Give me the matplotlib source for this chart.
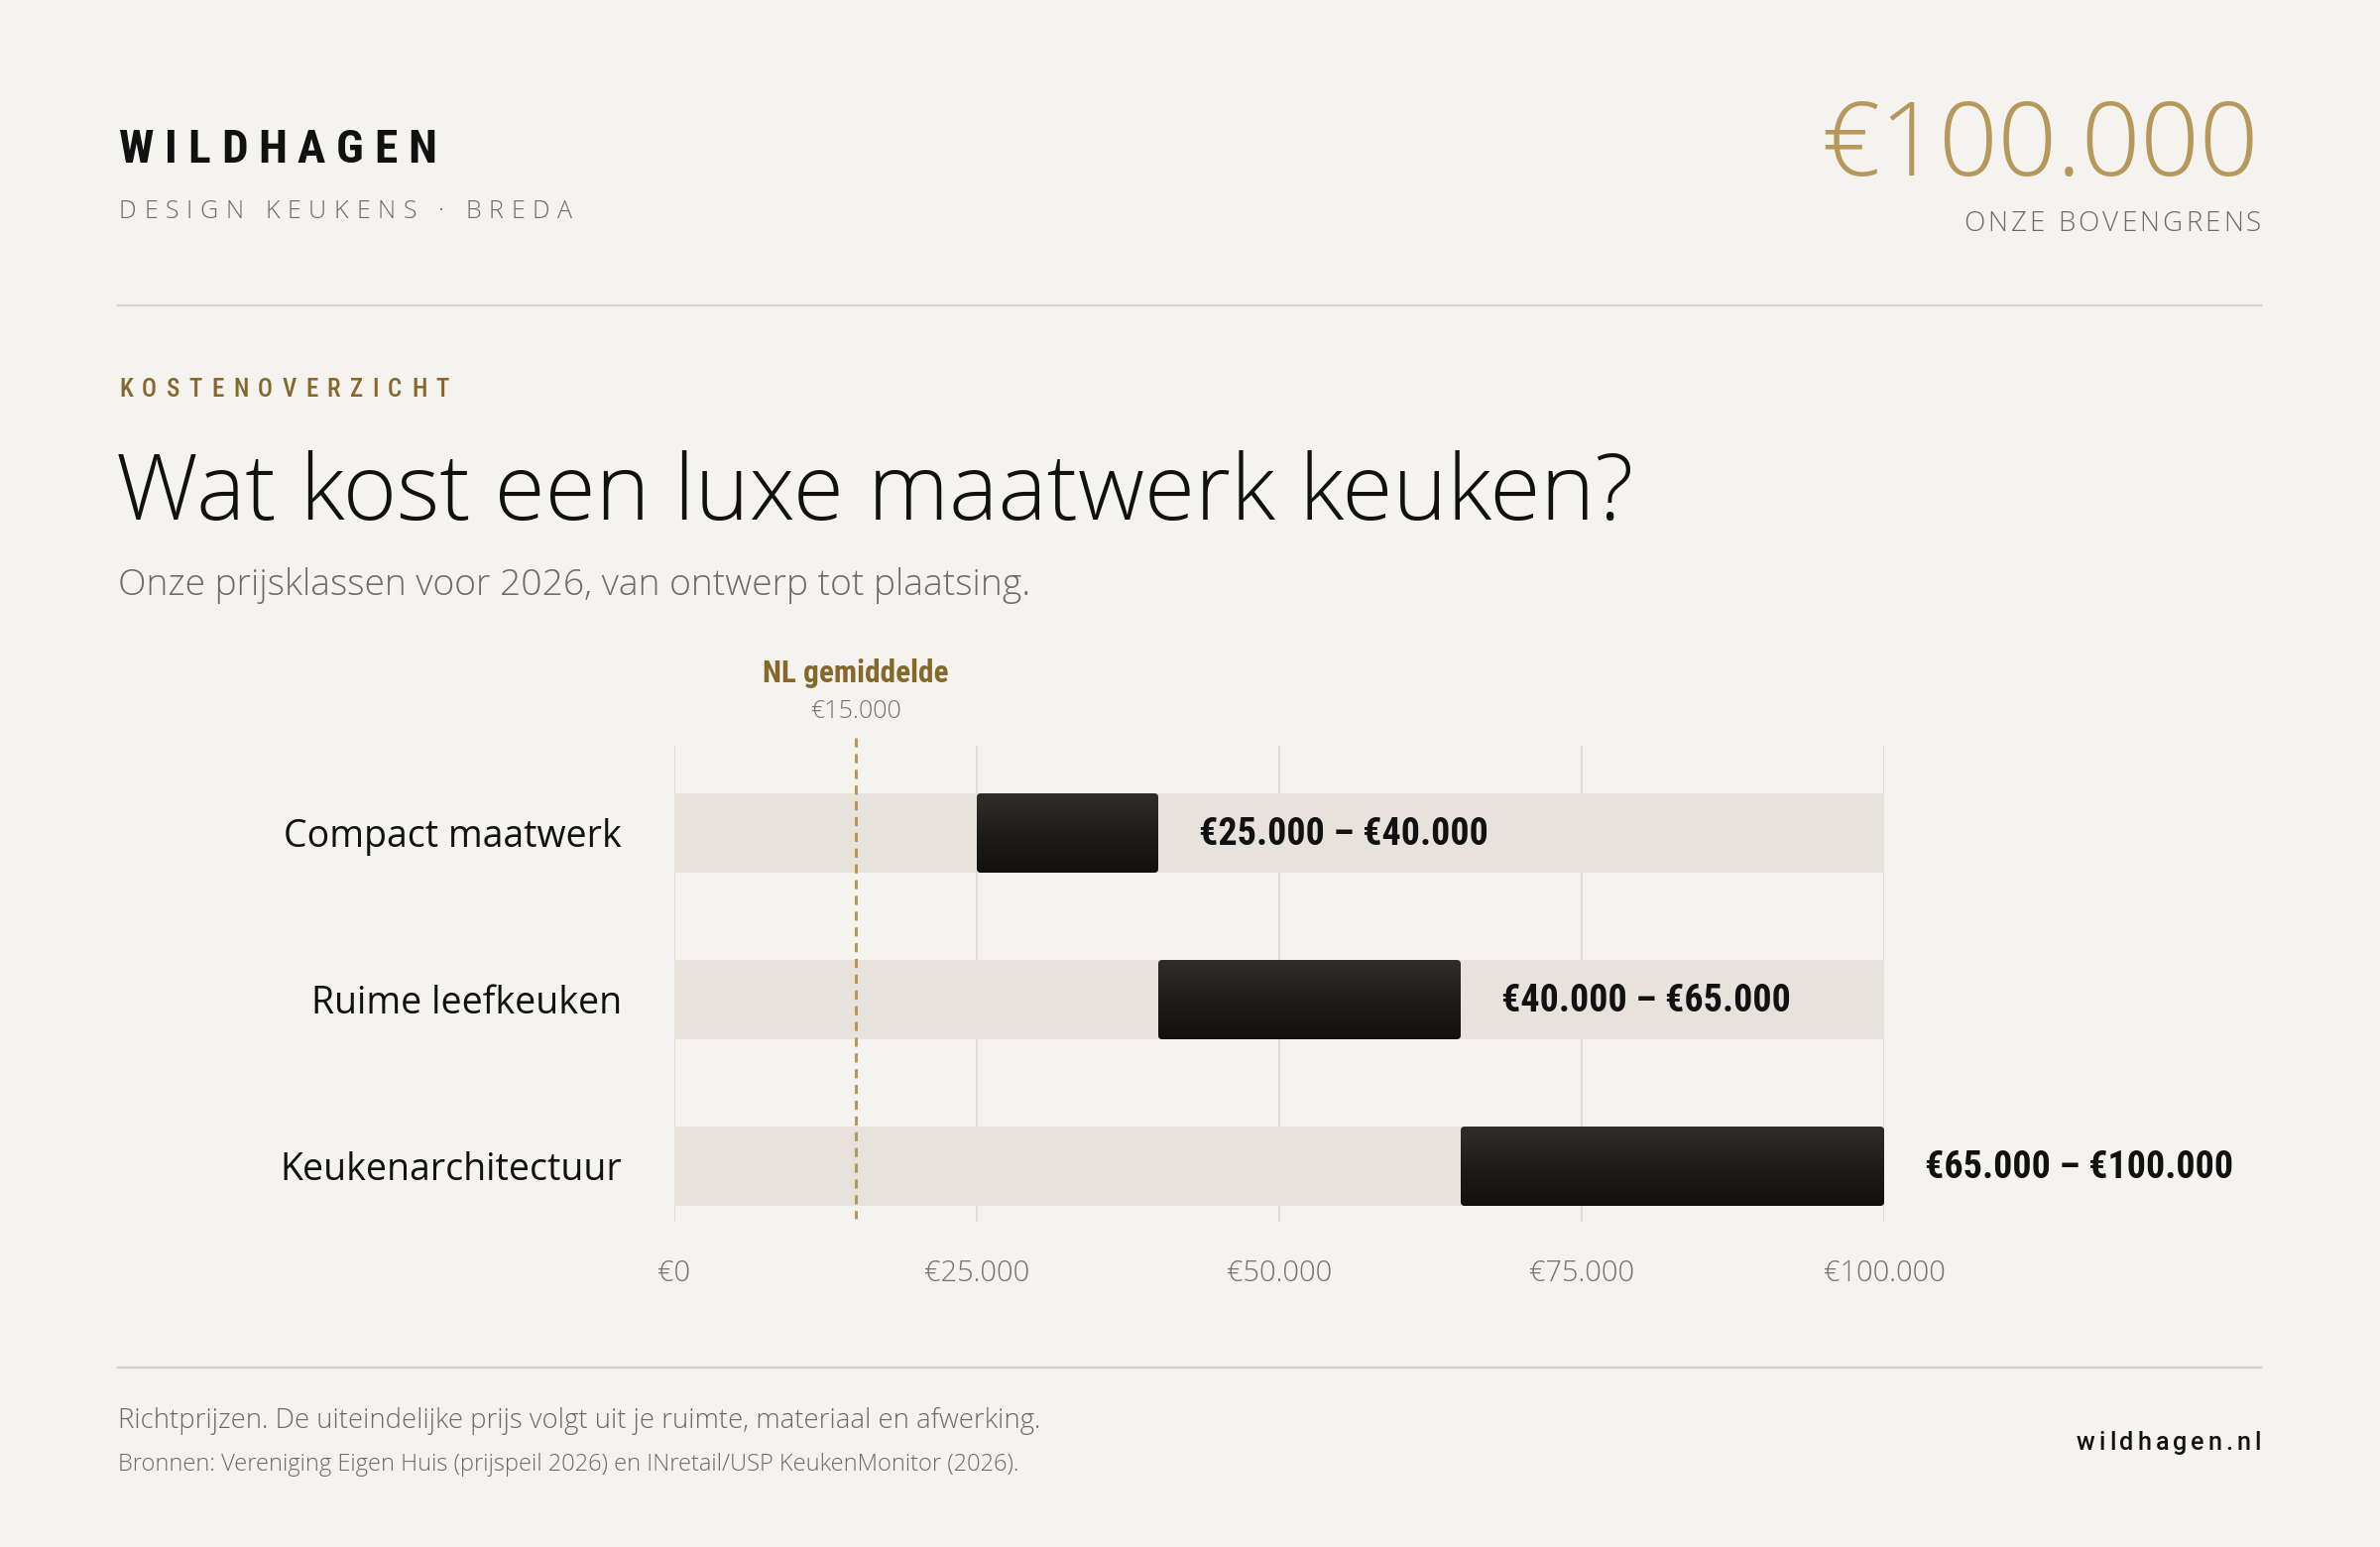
import matplotlib
matplotlib.use("Agg")
import matplotlib.pyplot as plt
import numpy as np
from matplotlib import font_manager as fm
from matplotlib.colors import LinearSegmentedColormap
from matplotlib.lines import Line2D
from matplotlib.patches import FancyBboxPatch, Rectangle

# data
categories = ["Compact maatwerk", "Ruime leefkeuken", "Keukenarchitectuur"]
low = [25000, 40000, 65000]
high = [40000, 65000, 100000]
range_labels = ["€25.000 – €40.000", "€40.000 – €65.000", "€65.000 – €100.000"]
tick_values = [0, 25000, 50000, 75000, 100000]
tick_labels = ["€0", "€25.000", "€50.000", "€75.000", "€100.000"]
nl_average = 15000
scale_max = 100000

# colours
BG = "#f5f3ef"
RULE = "#d6d3cc"
GRID = "#dcd8d2"
TRACK = "#e7e2dc"
GOLD = "#b5985a"
GOLD_DARK = "#86682a"
INK = "#111111"
GREY = "#6e6a65"
TICK = "#77726d"

W, H = 2400, 1560
fig = plt.figure(figsize=(12, 7.8), dpi=200)
fig.patch.set_facecolor(BG)
renderer = fig.canvas.get_renderer()


def wnum(w):
    if isinstance(w, str):
        return fm.weight_dict.get(w, 400)
    return int(w)


def pick_font(families, weight):
    best_all = None
    for fam in families:
        best = None
        for f in fm.fontManager.ttflist:
            if f.name != fam or f.style != "normal":
                continue
            # skip condensed cuts that share the family name
            if "Condensed" not in fam and str(f.stretch) not in ("normal", "400", "500"):
                continue
            if "Condensed" not in fam and "ondensed" in f.fname:
                continue
            d = abs(wnum(f.weight) - weight)
            if best is None or d < best[0]:
                best = (d, f.fname)
        if best is None:
            continue
        if best[0] <= 50:
            return fm.FontProperties(fname=best[1])
        if best_all is None or best[0] < best_all[0]:
            best_all = best
    if best_all:
        return fm.FontProperties(fname=best_all[1])
    return fm.FontProperties(family="DejaVu Sans")


LIGHT = pick_font(["Open Sans", "Noto Sans", "Lato", "Roboto"], 300)
REGULAR = pick_font(["Open Sans", "Noto Sans", "Lato", "Roboto"], 400)
DIN_BOLD = pick_font(["Roboto Condensed", "Roboto", "Noto Sans"], 700)
DIN_MED = pick_font(["Roboto Condensed", "Roboto", "Noto Sans"], 500)
WEB = pick_font(["Roboto", "Noto Sans"], 500)


def text_w(s, p):
    return renderer.get_text_width_height_descent(s, p, ismath=False)[0]


def sized(p, size):
    q = p.copy()
    q.set_size(size)
    return q


def fit_width(p, s, width):
    q = sized(p, 20)
    return sized(p, 20 * width / text_w(s, q))


def fit_cap(p, cap, ref="H"):
    q = sized(p, 20)
    _, h, d = renderer.get_text_width_height_descent(ref, q, ismath=False)
    return sized(p, 20 * cap / (h - d))


def put(x, y, s, p, color, ha="left"):
    fig.text(x / W, 1 - y / H, s, fontproperties=p, color=color,
             ha=ha, va="baseline")


def spaced(x, y, s, p, width, color, ha="left"):
    adv = [text_w("|" + c + "|", p) - text_w("||", p) for c in s]
    gap = (width - sum(adv)) / (len(s) - 1)
    x0 = x if ha == "left" else x - width
    for c, a in zip(s, adv):
        put(x0, y, c, p, color)
        x0 += a + gap


def rule(y):
    fig.add_artist(Line2D([119 / W, 2280 / W], [1 - y / H, 1 - y / H],
                          color=RULE, lw=0.8))


# header
spaced(120, 164, "WILDHAGEN", fit_cap(DIN_BOLD, 34), 320, INK)
spaced(120, 220, "DESIGN KEUKENS · BREDA", fit_cap(LIGHT, 18), 457, GREY)
put(2278, 177, "€100.000", fit_cap(LIGHT, 76, ref="0"), GOLD, ha="right")
spaced(2280, 233, "ONZE BOVENGRENS", fit_cap(LIGHT, 20), 300, GREY, ha="right")
rule(308)

spaced(120, 400, "KOSTENOVERZICHT", fit_cap(DIN_MED, 18), 333, GOLD_DARK)
put(117, 524, "Wat kost een luxe maatwerk keuken?",
    fit_width(LIGHT, "Wat kost een luxe maatwerk keuken?", 1526), INK)
put(119, 600, "Onze prijsklassen voor 2026, van ontwerp tot plaatsing.",
    fit_width(LIGHT, "Onze prijsklassen voor 2026, van ontwerp tot plaatsing.", 919), GREY)

# chart area
ax = fig.add_axes([680 / W, 1 - 1232 / H, 1220 / W, (1232 - 744) / H])
ax.set_facecolor("none")
px_x = scale_max / 1220
px_y = 1 / 168
bh = 80 * px_y
y_top = -(840 - 744) * px_y
y_bot = len(categories) - 1 + (1232 - 1176) * px_y

ax.vlines(tick_values, -(840 - 752) * px_y, y_bot, color=GRID, lw=0.6, zorder=1)

cmap = LinearSegmentedColormap.from_list("bar", ["#302d29", "#1f1d1b", "#121110"])
grad = np.linspace(0, 1, 64).reshape(-1, 1)
for i, (lo, hi) in enumerate(zip(low, high)):
    ax.add_patch(Rectangle((0, i - bh / 2), scale_max, bh, facecolor=TRACK,
                           edgecolor="none", zorder=2))
    box = FancyBboxPatch((lo, i - bh / 2), hi - lo, bh,
                         boxstyle=f"round,pad=0,rounding_size={4 * px_x}",
                         mutation_aspect=px_y / px_x, facecolor="none",
                         edgecolor="none", zorder=3)
    ax.add_patch(box)
    im = ax.imshow(grad, cmap=cmap, aspect="auto", origin="upper",
                   extent=(lo, hi, i + bh / 2, i - bh / 2), zorder=3,
                   interpolation="bilinear")
    im.set_clip_path(box)

ax.plot([nl_average, nl_average], [y_top, len(categories) - 1 + 53 * px_y],
        color=GOLD, lw=1.1, dashes=(3, 2.2), zorder=4)

cat_p = fit_width(REGULAR, categories[0], 340)
val_p = fit_width(DIN_BOLD, range_labels[0], 291)
for i, (cat, hi, lab) in enumerate(zip(categories, high, range_labels)):
    ax.text(-53 * px_x, i + 14 * px_y, cat, fontproperties=cat_p, color=INK,
            ha="right", va="baseline", clip_on=False)
    ax.text(hi + 41 * px_x, i + 12 * px_y, lab, fontproperties=val_p, color=INK,
            ha="left", va="baseline", clip_on=False)

tick_p = fit_width(LIGHT, "€25.000", 106)
for v, lab in zip(tick_values, tick_labels):
    ax.text(v, len(categories) - 1 + (1292 - 1176) * px_y, lab,
            fontproperties=tick_p, color=TICK, ha="center", va="baseline",
            clip_on=False)

ax.text(nl_average, (688 - 840) * px_y, "NL gemiddelde",
        fontproperties=fit_width(DIN_BOLD, "NL gemiddelde", 187),
        color=GOLD_DARK, ha="center", va="baseline", clip_on=False)
ax.text(nl_average, (724 - 840) * px_y, "€15.000",
        fontproperties=fit_width(LIGHT, "€15.000", 92), color=TICK,
        ha="center", va="baseline", clip_on=False)

ax.set_xlim(0, scale_max)
ax.set_ylim(y_bot, y_top)
ax.axis("off")

# footer
rule(1379)
put(119, 1440, "Richtprijzen. De uiteindelijke prijs volgt uit je ruimte, materiaal en afwerking.",
    fit_width(LIGHT, "Richtprijzen. De uiteindelijke prijs volgt uit je ruimte, materiaal en afwerking.", 928), GREY)
put(119, 1483, "Bronnen: Vereniging Eigen Huis (prijspeil 2026) en INretail/USP KeukenMonitor (2026).",
    fit_width(LIGHT, "Bronnen: Vereniging Eigen Huis (prijspeil 2026) en INretail/USP KeukenMonitor (2026).", 906), GREY)
spaced(2280, 1462, "wildhagen.nl", fit_cap(WEB, 19, ref="l"), 186, INK, ha="right")

fig.savefig("out.png", dpi=200, facecolor=BG)
